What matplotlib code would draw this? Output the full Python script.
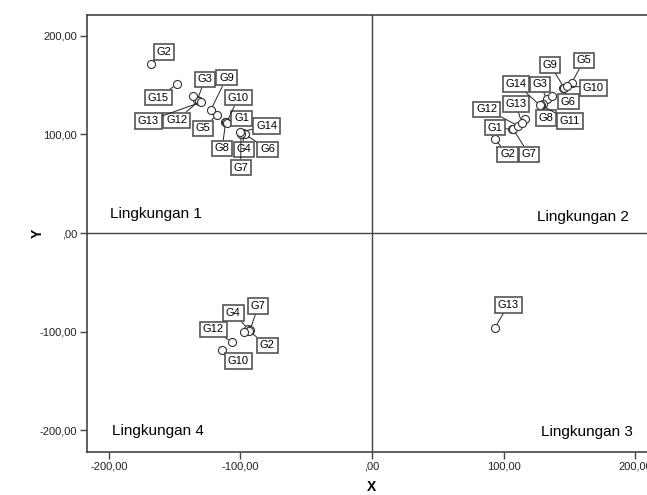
import matplotlib
matplotlib.use("Agg")
import matplotlib.pyplot as plt
from matplotlib.ticker import FuncFormatter, FixedLocator

plt.rcParams['font.family'] = ['Liberation Sans', 'DejaVu Sans']

# ---- data ----
q1_names = ["G1", "G2", "G3", "G4", "G5", "G6", "G7", "G8", "G9", "G10", "", "G12", "G13", "G14", "G15"]
q1_x = [-111.8, -168.3, -132.9, -98.3, -118.1, -96.6, -99.6, -111.3, -122.7, -110.5, -136.3, -131.6, -130.3, -100.4, -148.5]
q1_y = [113.0, 171.3, 134.7, 101.5, 119.8, 100.2, 101.0, 112.7, 124.6, 112.0, 139.1, 134.0, 132.7, 102.5, 151.0]

q2_names = ["G1", "G2", "G3", "", "G5", "G6", "G7", "G8", "G9", "G10", "G11", "G12", "G13", "G14", ""]
q2_x = [106.2, 93.5, 132.9, 116.3, 151.9, 145.5, 107.2, 129.8, 146.0, 148.1, 128.5, 111.3, 113.8, 127.8, 136.9]
q2_y = [105.3, 95.1, 135.7, 115.4, 152.6, 147.2, 105.6, 131.3, 147.7, 149.2, 129.9, 108.6, 112.0, 129.6, 139.1]

q3_names = ["G13"]
q3_x = [93.5]
q3_y = [-96.1]

q4_names = ["G4", "G7", "G2", "G12", "G10", ""]
q4_x = [-94.0, -92.8, -93.5, -106.7, -114.3, -97.1]
q4_y = [-97.8, -98.8, -99.5, -110.7, -118.8, -100.5]

region_names = ["Lingkungan 1", "Lingkungan 2", "Lingkungan 3", "Lingkungan 4"]
x_ticks = [-200, -100, 0, 100, 200]
y_ticks = [-200, -100, 0, 100, 200]

# ---- layout (label offsets in pixels) ----
q1_off = [(16.7, 3.4), (13.3, 12.3), (7.7, 21), (1.3, -16.3), (-13.4, -13.3), (22.7, -15),
          (-0.3, -34.2), (-3.4, -26.3), (16, 32.6), (11.6, 25), (0, 0), (-22.3, -19.3),
          (-52.4, -18.7), (26.7, 6), (-18.4, -13.4)]
q2_off = [(-16.7, 1.6), (12.7, -15), (-6.7, 15), (0, 0), (12.3, 22.4), (5, -13.7), (16, -25.3),
          (3.3, -14.6), (-14, 22.5), (26.6, -1.7), (29, -16), (-31.6, 16.7), (-5.7, 18.4),
          (-24, 21.6), (0, 0)]
q3_off = [(13.3, 22.7)]
q4_off = [(-15, 16.6), (8.3, 24.3), (18.3, -14.3), (-18.4, 12.7), (16.6, -11), (0, 0)]

fig = plt.figure(figsize=(6.47, 4.95), dpi=100)
ax = fig.add_axes([87 / 647, 43 / 495, 570 / 647, 437 / 495])
ax.set_xlim(-216.7, 216.7)
ax.set_ylim(-222.3, 221.3)

spine_c = '#444444'
for s in ax.spines.values():
    s.set_color(spine_c)
    s.set_linewidth(1.2)

ax.axhline(0, color=spine_c, lw=1.0, zorder=1)
ax.axvline(0, color=spine_c, lw=1.0, zorder=1)

def fmt(v, pos):
    s = f"{v:.2f}".replace('.', ',')
    if s.startswith("0,"):
        s = s[1:]
    if s.startswith("-0,"):
        s = s[1:]
    return s

ax.xaxis.set_major_locator(FixedLocator(x_ticks))
ax.yaxis.set_major_locator(FixedLocator(y_ticks))
ax.xaxis.set_major_formatter(FuncFormatter(fmt))
ax.yaxis.set_major_formatter(FuncFormatter(fmt))
ax.tick_params(axis='both', labelsize=8, length=5, width=1.0, color=spine_c, pad=2,
               labelcolor='#222222')

ax.set_xlabel("X", fontsize=10, fontweight='bold', labelpad=6)
ax.set_ylabel("Y", fontsize=10, fontweight='bold')
ax.yaxis.set_label_coords(-0.074, 0.5)

box = dict(boxstyle='square,pad=0.25', fc='white', ec='#555555', lw=1.2)

for names, xs, ys, offs in [(q1_names, q1_x, q1_y, q1_off), (q2_names, q2_x, q2_y, q2_off),
                            (q3_names, q3_x, q3_y, q3_off), (q4_names, q4_x, q4_y, q4_off)]:
    ax.plot(xs, ys, 'o', ms=5.8, mfc='white', mec='#333333', mew=0.8, zorder=3, ls='none')
    for n, x, y, (dx, dy) in zip(names, xs, ys, offs):
        if not n:
            continue
        ax.annotate(n, (x, y), xytext=(dx, dy), textcoords='offset pixels',
                    fontsize=8, ha='center', va='center', bbox=box, zorder=5,
                    arrowprops=dict(arrowstyle='-', color='#222222', lw=0.7,
                                    shrinkA=0, shrinkB=3))

ax.text(-199, 19, region_names[0], fontsize=11, ha='left', va='center')
ax.text(195, 16, region_names[1], fontsize=11, ha='right', va='center')
ax.text(198, -202, region_names[2], fontsize=11, ha='right', va='center')
ax.text(-197.5, -201, region_names[3], fontsize=11, ha='left', va='center')

fig.savefig("out.png", dpi=100)
